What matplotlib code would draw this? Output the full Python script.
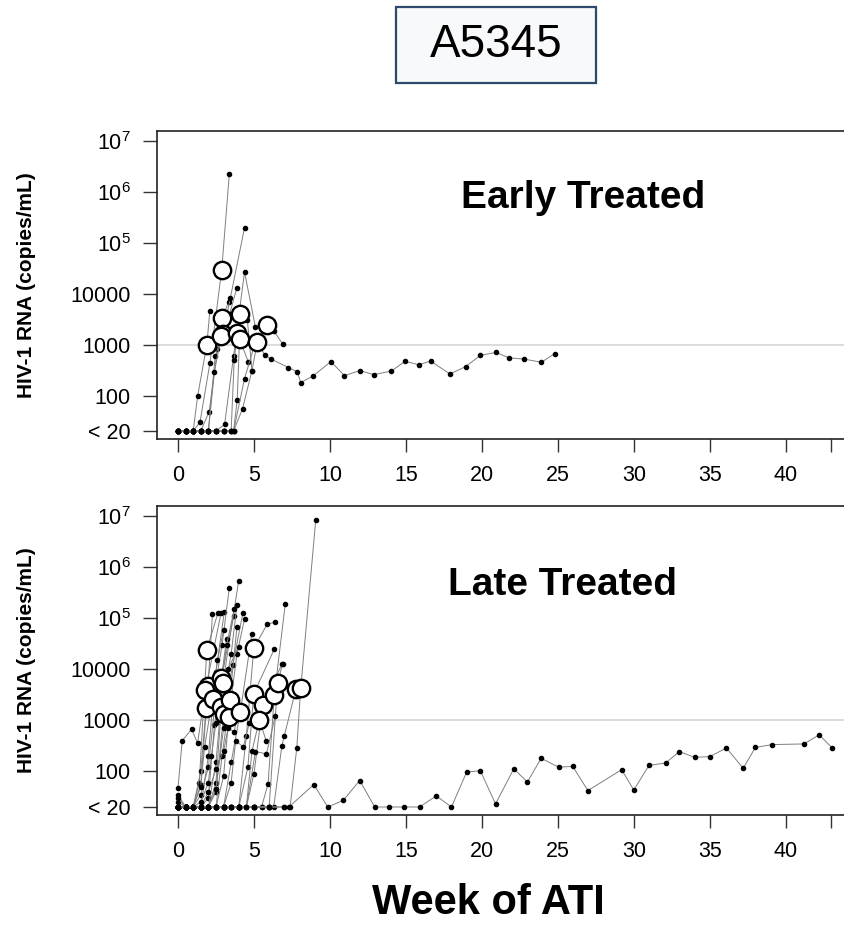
import matplotlib
matplotlib.use('Agg')
import matplotlib.pyplot as plt
from matplotlib.patches import Rectangle

plt.rcParams['font.family'] = ['Liberation Sans', 'DejaVu Sans']
plt.rcParams['mathtext.fontset'] = 'custom'
plt.rcParams['mathtext.rm'] = 'Liberation Sans'

# ---- data: weeks of ATI, HIV-1 RNA (copies/mL, <20 plotted at 20), index of ringed visit ----
# early treated
e1_wk = [0, 0.5, 1, 1.3, 1.9, 2.1]
e1_vl = [20, 20, 20, 100, 1000, 4700]
e1_ring = 4
e2_wk = [0, 0.5, 1, 1.45, 2.1, 2.88, 3.38]
e2_vl = [20, 20, 20, 30, 430, 30000, 2300000]
e2_ring = 5
e3_wk = [0, 0.5, 1, 1.5, 2.05, 2.6, 2.88, 3.33]
e3_vl = [20, 20, 20, 20, 48, 830, 3300, 6800]
e3_ring = 6
e4_wk = [0, 0.5, 1, 1.5, 2, 2.45, 2.95, 3.45, 4.38]
e4_vl = [20, 20, 20, 20, 20, 600, 1650, 8400, 200000]
e4_ring = 6
e5_wk = [0, 0.5, 1, 1.5, 2, 2.4, 2.85, 3.4, 3.87]
e5_vl = [20, 20, 20, 20, 20, 295, 1500, 4000, 13000]
e5_ring = 6
e6_wk = [0, 0.5, 1, 1.5, 2, 2.5, 3.07, 3.66, 3.86, 4.38, 5.1]
e6_vl = [20, 20, 20, 20, 20, 20, 27, 600, 1700, 27000, 2200]
e6_ring = 8
e7_wk = [0, 0.5, 1, 1.5, 2, 2.5, 3, 3.5, 3.7, 4.05, 4.57, 4.87]
e7_vl = [20, 20, 20, 20, 20, 20, 20, 20, 500, 4100, 3000, 310]
e7_ring = 9
e8_wk = [0, 0.5, 1, 1.5, 2, 2.5, 3, 3.66, 3.9, 4.05, 4.64]
e8_vl = [20, 20, 20, 20, 20, 20, 20, 20, 83, 1300, 450]
e8_ring = 9
e9_wk = [0, 0.5, 1, 1.5, 2, 2.5, 3, 3.5, 3.66, 4.25, 4.87, 5.23, 5.7, 6.1, 7.27, 7.85,
         8.08, 8.87, 10.07, 10.96, 11.96, 12.88, 14.05, 14.94, 15.84, 16.63, 17.9, 18.93,
         19.9, 20.92, 21.8, 22.8, 23.92, 24.8]
e9_vl = [20, 20, 20, 20, 20, 20, 20, 20, 20, 55, 310, 1150, 630, 525, 355, 293,
         180, 240, 465, 245, 310, 257, 303, 470, 405, 475, 265, 370,
         615, 705, 550, 520, 450, 670]
e9_ring = 11
e10_wk = [0, 0.5, 1, 1.5, 2, 2.5, 3, 3.5, 3.66, 4.38, 5.0, 5.85, 6.3, 6.9]
e10_vl = [20, 20, 20, 20, 20, 20, 20, 20, 20, 215, 900, 2450, 1870, 1030]
e10_ring = 11

# late treated
l1_wk = [0, 0.5, 1, 1.4, 1.9, 2.62]
l1_vl = [20, 20, 20, 60, 24500, 125000]
l1_ring = 4
l2_wk = [0, 0.5, 1, 1.5, 1.98, 2.27]
l2_vl = [20, 20, 20, 100, 4800, 120000]
l2_ring = 4
l3_wk = [0, 0.28, 0.9, 1.29, 1.81, 2.84]
l3_vl = [47, 400, 670, 355, 4000, 130000]
l3_ring = 4
l4_wk = [0, 0.5, 1, 1.5, 1.87, 2.5, 3.05]
l4_vl = [35, 20, 20, 55, 1740, 9000, 135000]
l4_ring = 4
l5_wk = [0, 0.5, 1, 1.5, 2, 2.31, 2.9, 3.38]
l5_vl = [25, 20, 20, 20, 200, 2600, 30000, 400000]
l5_ring = 5
l6_wk = [0, 0.5, 1, 1.5, 2, 2.4, 2.86, 3.66]
l6_vl = [20, 20, 20, 20, 30, 800, 6700, 110000]
l6_ring = 6
l7_wk = [0, 0.5, 1, 1.5, 2, 2.5, 2.96, 3.99]
l7_vl = [20, 20, 20, 20, 20, 150, 5400, 540000]
l7_ring = 6
l8_wk = [0, 0.5, 1, 1.5, 2, 2.5, 2.86, 3.5, 3.88]
l8_vl = [20, 20, 20, 20, 20, 60, 1820, 20000, 180000]
l8_ring = 6
l9_wk = [0, 0.5, 1, 1.5, 2, 2.5, 3.01, 3.6, 4.27]
l9_vl = [20, 20, 20, 20, 20, 40, 1350, 12000, 127000]
l9_ring = 6
l10_wk = [0, 0.5, 1, 1.5, 2, 2.5, 3, 3.35, 3.88, 4.38]
l10_vl = [20, 20, 20, 20, 20, 20, 80, 1160, 20000, 97000]
l10_ring = 7
l11_wk = [0, 0.5, 1, 1.5, 2, 2.5, 2.9, 3.4, 3.88]
l11_vl = [20, 20, 20, 20, 20, 20, 200, 2460, 67000]
l11_ring = 7
l12_wk = [0, 0.5, 1, 1.5, 2, 2.5, 3, 3.5, 4.1, 4.86]
l12_vl = [20, 20, 20, 20, 20, 20, 20, 150, 1430, 49000]
l12_ring = 8
l13_wk = [0, 0.5, 1, 1.5, 2, 2.5, 3, 3.5, 4, 4.5, 4.99, 5.86, 6.39]
l13_vl = [20, 20, 20, 20, 20, 20, 20, 20, 20, 490, 26000, 76000, 85000]
l13_ring = 10
l14_wk = [0, 0.5, 1, 1.5, 2, 2.5, 3, 3.5, 4, 4.6, 4.99, 6.34]
l14_vl = [20, 20, 20, 20, 20, 20, 20, 20, 20, 120, 3340, 25000]
l14_ring = 10
l15_wk = [0, 0.5, 1, 1.5, 2, 2.5, 3, 3.5, 4, 4.5, 5, 5.58, 6.86]
l15_vl = [20, 20, 20, 20, 20, 20, 20, 20, 20, 20, 90, 1970, 13000]
l15_ring = 11
l16_wk = [0, 0.5, 1, 1.5, 2, 2.5, 3, 3.5, 4, 4.5, 4.87, 5.36, 5.8]
l16_vl = [20, 20, 20, 20, 20, 20, 20, 20, 20, 20, 250, 1030, 400]
l16_ring = 11
l17_wk = [0, 1, 2, 3, 4, 5, 5.5, 5.93, 6.34, 7.06]
l17_vl = [20, 20, 20, 20, 20, 20, 20, 57, 3100, 190000]
l17_ring = 8
l18_wk = [0, 1, 2, 3, 4, 5, 5.5, 6.0, 6.56, 6.88]
l18_vl = [20, 20, 20, 20, 20, 20, 20, 20, 5400, 12700]
l18_ring = 8
l19_wk = [0, 1, 2, 3, 4, 5, 6, 6.3, 6.84, 7.0, 7.76]
l19_vl = [20, 20, 20, 20, 20, 20, 20, 20, 320, 500, 4100]
l19_ring = 10
l20_wk = [0, 1, 2, 3, 4, 5, 6, 7, 7.38, 7.82, 8.08, 9.07]
l20_vl = [20, 20, 20, 20, 20, 20, 20, 20, 20, 290, 4300, 8700000]
l20_ring = 10
l21_wk = [0, 1, 2, 3, 4, 5, 6, 7, 7.3, 8.94, 9.86, 10.88, 11.96, 12.95, 13.9, 14.89,
          15.9, 17.0, 18.0, 19.0, 19.9, 20.9, 22.1, 23.0, 23.9, 25.06, 25.98, 26.98,
          29.2, 30.0, 31.0, 32.1, 33.0, 34.0, 35.0, 36.1, 37.2, 38.0, 39.1, 41.2, 42.2, 43.05]
l21_vl = [20, 20, 20, 20, 20, 20, 20, 20, 20, 55, 20, 27, 66, 20, 20, 20,
          20, 33, 20, 97, 103, 23, 112, 62, 180, 121, 125, 42,
          108, 43, 131, 146, 245, 188, 195, 287, 115, 295, 335, 345, 520, 290]
l21_ring = None
l22_wk = [0, 0.5, 1, 1.5, 2, 2.5, 3, 3.3, 3.99]
l22_vl = [20, 20, 20, 20, 20, 45, 700, 10000, 28000]
l22_ring = None
l23_wk = [0, 0.5, 1, 1.5, 2, 2.38, 2.7, 3.2]
l23_vl = [20, 20, 20, 35, 120, 1500, 3000, 40000]
l23_ring = None
l24_wk = [0, 0.5, 1, 1.5, 2, 2.5, 3, 3.3, 3.7, 4.0]
l24_vl = [20, 20, 20, 20, 40, 110, 250, 700, 600, 1800]
l24_ring = None
l25_wk = [0, 0.5, 1, 1.5, 2, 2.5, 3, 3.5, 4, 4.5, 5.1, 5.82, 6.4]
l25_vl = [20, 20, 20, 20, 20, 20, 20, 20, 20, 20, 245, 220, 1200]
l25_ring = None
l26_wk = [0, 0.5, 1, 1.5, 1.75, 2.2, 2.6, 3.0]
l26_vl = [30, 20, 20, 50, 300, 2000, 15000, 60000]
l26_ring = None
l27_wk = [0, 0.5, 1, 1.5, 2, 2.2, 2.5, 2.8, 3.2, 3.7]
l27_vl = [20, 20, 20, 25, 60, 200, 900, 4000, 30000, 150000]
l27_ring = None
l28_wk = [0, 0.5, 1, 1.5, 2, 2.5, 3, 3.5, 3.8, 4.3, 4.7]
l28_vl = [20, 20, 20, 20, 20, 20, 20, 60, 400, 300, 900]
l28_ring = None

early = [(e1_wk, e1_vl, e1_ring), (e2_wk, e2_vl, e2_ring), (e3_wk, e3_vl, e3_ring),
         (e4_wk, e4_vl, e4_ring), (e5_wk, e5_vl, e5_ring), (e6_wk, e6_vl, e6_ring),
         (e7_wk, e7_vl, e7_ring), (e8_wk, e8_vl, e8_ring), (e9_wk, e9_vl, e9_ring),
         (e10_wk, e10_vl, e10_ring)]
late = [(l1_wk, l1_vl, l1_ring), (l2_wk, l2_vl, l2_ring), (l3_wk, l3_vl, l3_ring),
        (l4_wk, l4_vl, l4_ring), (l5_wk, l5_vl, l5_ring), (l6_wk, l6_vl, l6_ring),
        (l7_wk, l7_vl, l7_ring), (l8_wk, l8_vl, l8_ring), (l9_wk, l9_vl, l9_ring),
        (l10_wk, l10_vl, l10_ring), (l11_wk, l11_vl, l11_ring), (l12_wk, l12_vl, l12_ring),
        (l13_wk, l13_vl, l13_ring), (l14_wk, l14_vl, l14_ring), (l15_wk, l15_vl, l15_ring),
        (l16_wk, l16_vl, l16_ring), (l17_wk, l17_vl, l17_ring), (l18_wk, l18_vl, l18_ring),
        (l19_wk, l19_vl, l19_ring), (l20_wk, l20_vl, l20_ring), (l21_wk, l21_vl, l21_ring),
        (l22_wk, l22_vl, l22_ring), (l23_wk, l23_vl, l23_ring), (l24_wk, l24_vl, l24_ring),
        (l25_wk, l25_vl, l25_ring), (l26_wk, l26_vl, l26_ring), (l27_wk, l27_vl, l27_ring),
        (l28_wk, l28_vl, l28_ring)]

ytick_vals = [20, 100, 1000, 10000, 1e5, 1e6, 1e7]
ytick_labs = ['< 20', '100', '1000', '10000', r'$\mathregular{10^5}$',
              r'$\mathregular{10^6}$', r'$\mathregular{10^7}$']
xtick_vals = [0, 5, 10, 15, 20, 25, 30, 35, 40]

W, H = 845, 935
fig = plt.figure(figsize=(W / 100, H / 100), dpi=100)


def px_axes(left, top, right, bottom):
    return fig.add_axes([left / W, 1 - bottom / H, (right - left) / W, (bottom - top) / H])


def draw_panel(ax, group, label, lx, ly):
    ax.axhline(1000, color='#d9d9d9', lw=1.3, zorder=1)
    for wk, vl, ring in group:
        ax.plot(wk, vl, color='#7f7f7f', lw=0.7, marker='o', ms=3.0,
                mfc='black', mec='black', zorder=2)
    for wk, vl, ring in group:
        if ring is not None:
            ax.plot(wk[ring], vl[ring], 'o', ms=12.5, mfc='white', mec='black',
                    mew=1.7, zorder=3)
    ax.set_yscale('log')
    ax.set_ylim(10 ** 1.144, 10 ** 7.205)
    ax.set_xlim(-1.38, 43.9)
    ax.set_yticks(ytick_vals)
    ax.set_yticklabels(ytick_labs)
    ax.minorticks_off()
    ax.set_xticks(xtick_vals + [43])
    ax.set_xticklabels([str(v) for v in xtick_vals] + [''])
    ax.tick_params(axis='y', length=10, width=1, color='#333333', pad=9, labelsize=15.5)
    ax.tick_params(axis='x', length=9.5, width=1, color='#333333', pad=9, labelsize=15.5)
    ax.spines['right'].set_visible(False)
    for s in ['top', 'left', 'bottom']:
        ax.spines[s].set_linewidth(1.2)
        ax.spines[s].set_color('#222222')
    ax.text(lx, ly, label, transform=ax.transAxes, ha='center', va='center',
            fontsize=28, fontweight='bold')


ax1 = px_axes(157, 131, 845, 439)
draw_panel(ax1, early, 'Early Treated', (583 - 157) / (845 - 157), 1 - (198 - 131) / 308)
ax2 = px_axes(157, 506, 845, 815)
draw_panel(ax2, late, 'Late Treated', (563 - 157) / (845 - 157), 1 - (585 - 506) / 309)

# y labels, one per panel
for yc in [(131 + 439) / 2, (506 + 815) / 2]:
    fig.text(27 / W, 1 - yc / H, 'HIV-1 RNA (copies/mL)', rotation=90, ha='center',
             va='center', fontsize=15, fontweight='bold')

# title box
fig.add_artist(Rectangle((396 / W, 1 - 83 / H), 200 / W, 76 / H, transform=fig.transFigure,
                         facecolor='#f8f9fb', edgecolor='#2e4a6b', lw=1.6))
fig.text(496 / W, 1 - 45 / H, 'A5345', ha='center', va='center', fontsize=33)

fig.text(488 / W, 1 - 903 / H, 'Week of ATI', ha='center', va='center',
         fontsize=30, fontweight='bold')

fig.savefig('out.png', dpi=100)
